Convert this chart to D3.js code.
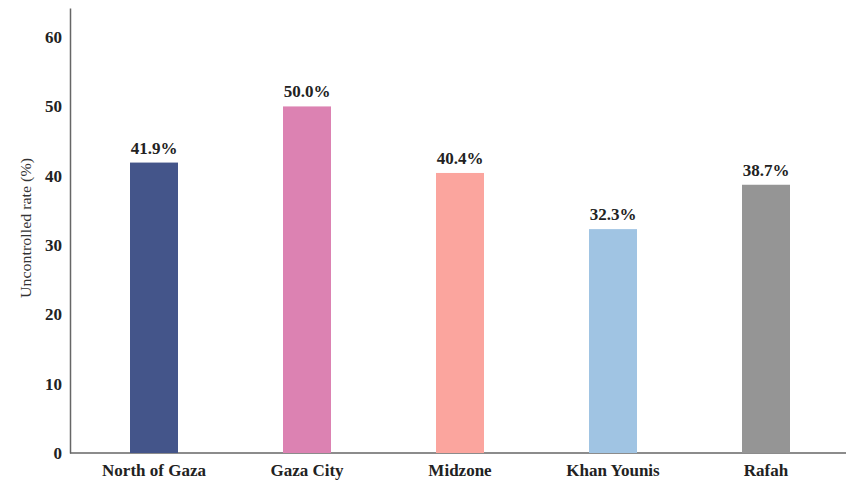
<!DOCTYPE html>
<html>
<head>
<meta charset="utf-8">
<script src="https://cdn.jsdelivr.net/npm/d3@7"></script>
<style>
  body { margin: 0; background: #fff; }
  text { font-family: "Liberation Serif", "Times New Roman", serif; }
</style>
</head>
<body>
<svg id="chart" width="847" height="484"></svg>
<script>
const regions = ["North of Gaza", "Gaza City", "Midzone", "Khan Younis", "Rafah"]
const rates = [41.9, 50.0, 40.4, 32.3, 38.7]
const colors = ["#44558a", "#dc82b2", "#fba59e", "#a0c4e3", "#959595"]
const yTicks = [0, 10, 20, 30, 40, 50, 60]

const svg = d3.select("#chart")

const x = d3.scalePoint().domain(regions).range([77.5, 842.5]).padding(0.5)
const y = d3.scaleLinear().domain([0, 64.2]).range([453, 8])
const barW = 48

// y axis
const yAxis = svg.append("g")
  .attr("transform", "translate(70,0)")
  .call(d3.axisLeft(y).tickValues(yTicks).tickSize(0).tickPadding(8).tickSizeOuter(0))
yAxis.select(".domain").attr("stroke", "#666").attr("stroke-width", 1.5)
yAxis.selectAll("text")
  .attr("font-size", 17).attr("font-weight", "bold").attr("fill", "#222")
  .style("font-family", "Liberation Serif, serif")

// x axis line
svg.append("line")
  .attr("x1", 70).attr("x2", 846)
  .attr("y1", y(0)).attr("y2", y(0))
  .attr("stroke", "#666").attr("stroke-width", 1.5)

// bars
svg.selectAll(".bar")
  .data(regions)
  .join("rect")
  .attr("class", "bar")
  .attr("x", d => x(d) - barW / 2)
  .attr("width", barW)
  .attr("y", (d, i) => y(rates[i]))
  .attr("height", (d, i) => y(0) - y(rates[i]))
  .attr("fill", (d, i) => colors[i])

// value labels
svg.selectAll(".val")
  .data(regions)
  .join("text")
  .attr("class", "val")
  .attr("x", d => x(d))
  .attr("y", (d, i) => y(rates[i]) - 9)
  .attr("text-anchor", "middle")
  .attr("font-size", 17).attr("font-weight", "bold").attr("fill", "#222")
  .text((d, i) => rates[i].toFixed(1) + "%")

// category labels
svg.selectAll(".cat")
  .data(regions)
  .join("text")
  .attr("class", "cat")
  .attr("x", d => x(d))
  .attr("y", 476)
  .attr("text-anchor", "middle")
  .attr("font-size", 17).attr("font-weight", "bold").attr("fill", "#222")
  .text(d => d)

// y title
svg.append("text")
  .attr("transform", "translate(31,228) rotate(-90)")
  .attr("text-anchor", "middle")
  .attr("font-size", 15).attr("fill", "#333")
  .attr("textLength", 140).attr("lengthAdjust", "spacingAndGlyphs")
  .text("Uncontrolled rate (%)")
</script>
</body>
</html>
